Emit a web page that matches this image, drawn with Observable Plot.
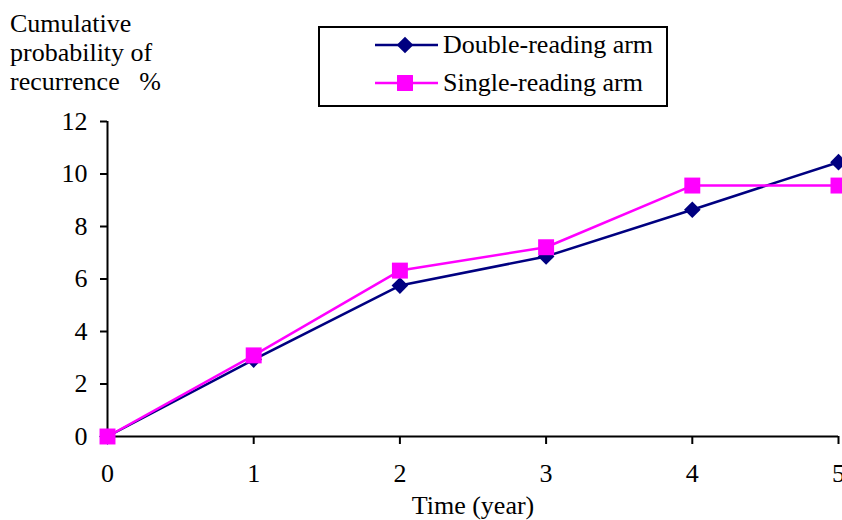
<!DOCTYPE html>
<html>
<head>
<meta charset="utf-8">
<script src="https://cdn.jsdelivr.net/npm/d3@7"></script>
<script src="https://cdn.jsdelivr.net/npm/@observablehq/plot@0.6"></script>
<style>
  html, body { margin: 0; padding: 0; background: white; }
  #wrap { position: relative; width: 842px; height: 520px; overflow: hidden; font-family: 'Liberation Serif', 'Times New Roman', serif; }
  #title { position: absolute; left: 10px; top: 9px; font-size: 26px; line-height: 29px; white-space: pre; color: black; }
  #legend { position: absolute; left: 0; top: 0; }
</style>
</head>
<body>
<div id="wrap">
  <div id="chart"></div>
  <div id="title">Cumulative
probability of
recurrence   %</div>
  <svg id="legend" width="842" height="130"></svg>
</div>
<script>
const years = [0, 1, 2, 3, 4, 5];
const doubleReading = [0, 2.93, 5.75, 6.86, 8.64, 10.45];
const singleReading = [0, 3.09, 6.32, 7.21, 9.56, 9.56];
const xTicks = [0, 1, 2, 3, 4, 5];
const yTicks = [0, 2, 4, 6, 8, 10, 12];
const seriesNames = ["Double-reading arm", "Single-reading arm"];
const seriesColors = ["#000080", "#FF00FF"];
const xLabel = "Time (year)";

const dbl = years.map((t, i) => ({t, v: doubleReading[i]}));
const sgl = years.map((t, i) => ({t, v: singleReading[i]}));

const font = "'Liberation Serif', 'Times New Roman', serif";

const chart = Plot.plot({
  width: 842,
  height: 520,
  marginLeft: 107,
  marginRight: 4,
  marginTop: 121,
  marginBottom: 84,
  style: { fontFamily: font, fontSize: "26px", color: "black", background: "white" },
  x: { domain: [0, 5] },
  y: { domain: [0, 12] },
  marks: [
    Plot.axisY({ ticks: yTicks, tickFormat: "d", tickSize: 7, tickPadding: 13, label: null, stroke: "black", strokeWidth: 2, fontSize: 26, fill: "black" }),
    Plot.axisX({ ticks: xTicks, tickFormat: "d", tickSize: 8, tickPadding: 19, label: null, stroke: "black", strokeWidth: 2, fontSize: 26, fill: "black" }),
    Plot.ruleX([0], { stroke: "black", strokeWidth: 2 }),
    Plot.ruleY([0], { stroke: "black", strokeWidth: 2 }),
    Plot.text([xLabel], { frameAnchor: "bottom", dy: 69, lineAnchor: "middle", fontSize: 26, fill: "black" }),
    Plot.line(dbl, { x: "t", y: "v", stroke: seriesColors[0], strokeWidth: 2.5 }),
    Plot.dot(dbl, { x: "t", y: "v", symbol: "diamond2", r: 7.5, fill: seriesColors[0], stroke: "none" }),
    Plot.line(sgl, { x: "t", y: "v", stroke: seriesColors[1], strokeWidth: 2.5 }),
    Plot.dot(sgl, { x: "t", y: "v", symbol: "square", r: 9, fill: seriesColors[1], stroke: "none" })
  ]
});
document.getElementById("chart").appendChild(chart);

// Legend
const lg = d3.select("#legend");
lg.append("rect").attr("x", 319).attr("y", 27).attr("width", 348).attr("height", 79)
  .attr("fill", "white").attr("stroke", "black").attr("stroke-width", 2);
const rowsY = [45, 83];
const symbols = [d3.symbolDiamond2, d3.symbolSquare];
const sizes = [Math.PI * 7.5 * 7.5, Math.PI * 9 * 9];
seriesNames.forEach((name, i) => {
  const y = rowsY[i];
  lg.append("line").attr("x1", 375).attr("x2", 438).attr("y1", y).attr("y2", y)
    .attr("stroke", seriesColors[i]).attr("stroke-width", 2.5);
  lg.append("path").attr("d", d3.symbol(symbols[i], sizes[i])())
    .attr("transform", `translate(405,${y})`).attr("fill", seriesColors[i]);
  lg.append("text").attr("x", 443).attr("y", y).attr("dy", "0.32em")
    .attr("font-family", font).attr("font-size", 26).attr("fill", "black").text(name);
});
</script>
</body>
</html>
